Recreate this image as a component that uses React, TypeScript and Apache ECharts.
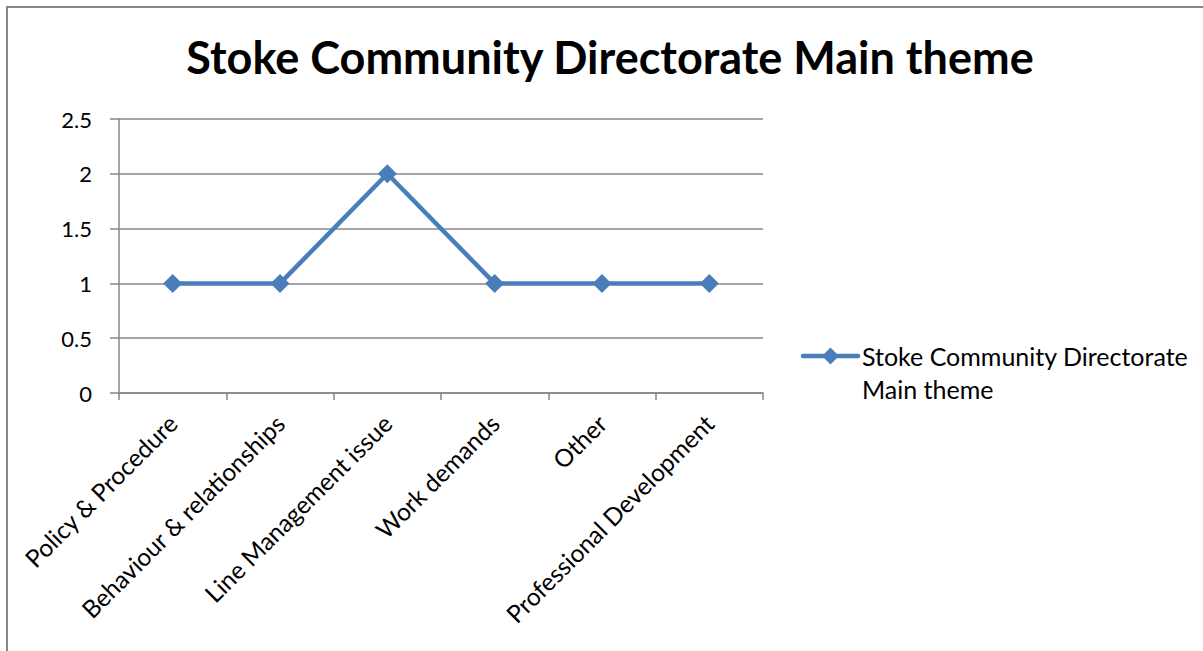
import React, { useEffect, useRef } from "react";
import * as echarts from "echarts";

const categories = [
  "Policy & Procedure",
  "Behaviour & relationships",
  "Line Management issue",
  "Work demands",
  "Other",
  "Professional Development",
];
const seriesName = "Stoke Community Directorate Main theme";
const values = [1, 1, 2, 1, 1, 1];
const yTicks = { min: 0, max: 2.5, interval: 0.5 };

const LINE_BLUE = "#4a7ebb";
const GRID_GRAY = "#878787";
const FONT = "Lato";

export default function App() {
  const ref = useRef<HTMLDivElement>(null);

  useEffect(() => {
    if (!ref.current) return;
    const chart = echarts.init(ref.current, undefined, { renderer: "svg" });
    chart.setOption({
      animation: false,
      backgroundColor: "#ffffff",
      title: {
        text: "Stoke Community Directorate Main theme",
        left: 605,
        textAlign: "center",
        top: 29,
        textStyle: {
          fontFamily: FONT,
          fontWeight: "bold",
          fontSize: 45,
          color: "#000",
        },
      },
      grid: { left: 119, right: 440, top: 119, bottom: 258, containLabel: false },
      xAxis: {
        type: "category",
        data: categories,
        boundaryGap: true,
        axisLine: { show: true, lineStyle: { color: GRID_GRAY, width: 1.5 } },
        axisTick: { show: true, length: 7, lineStyle: { color: GRID_GRAY, width: 1.5 } },
        axisLabel: {
          rotate: 45,
          margin: 26,
          interval: 0,
          fontFamily: FONT,
          fontSize: 24.5,
          color: "#000",
        },
        splitLine: { show: false },
      },
      yAxis: {
        type: "value",
        min: yTicks.min,
        max: yTicks.max,
        interval: yTicks.interval,
        axisLine: { show: true, lineStyle: { color: GRID_GRAY, width: 1.5 } },
        axisTick: { show: true, length: 9, lineStyle: { color: GRID_GRAY, width: 1.5 } },
        axisLabel: {
          margin: 27,
          fontFamily: FONT,
          fontSize: 22,
          color: "#000",
        },
        splitLine: { show: true, lineStyle: { color: GRID_GRAY, width: 1.5 } },
      },
      series: [
        {
          name: seriesName,
          type: "line",
          data: values,
          symbol: "diamond",
          symbolSize: 19,
          lineStyle: { color: LINE_BLUE, width: 4.5 },
          itemStyle: { color: LINE_BLUE },
        },
      ],
      graphic: [
        {
          type: "rect",
          shape: { x: 7, y: 7, width: 1300, height: 700 },
          style: { fill: "none", stroke: GRID_GRAY, lineWidth: 2 },
          silent: true,
        },
        {
          type: "line",
          shape: { x1: 803, y1: 356, x2: 858, y2: 356 },
          style: { stroke: LINE_BLUE, lineWidth: 4.5, lineCap: "round" },
        },
        {
          type: "polygon",
          shape: { points: [[830.5, 347.5], [839, 356], [830.5, 364.5], [822, 356]] },
          style: { fill: LINE_BLUE },
        },
        {
          type: "text",
          x: 862,
          y: 339.5,
          style: {
            text: "Stoke Community Directorate\nMain theme",
            fontFamily: FONT,
            fontSize: 25,
            lineHeight: 33,
            fill: "#000",
            verticalAlign: "top",
          },
        },
      ],
    });
    return () => chart.dispose();
  }, []);

  return (
    <div
      ref={ref}
      style={{ position: "absolute", left: 0, top: 0, width: 1203, height: 651 }}
    />
  );
}
